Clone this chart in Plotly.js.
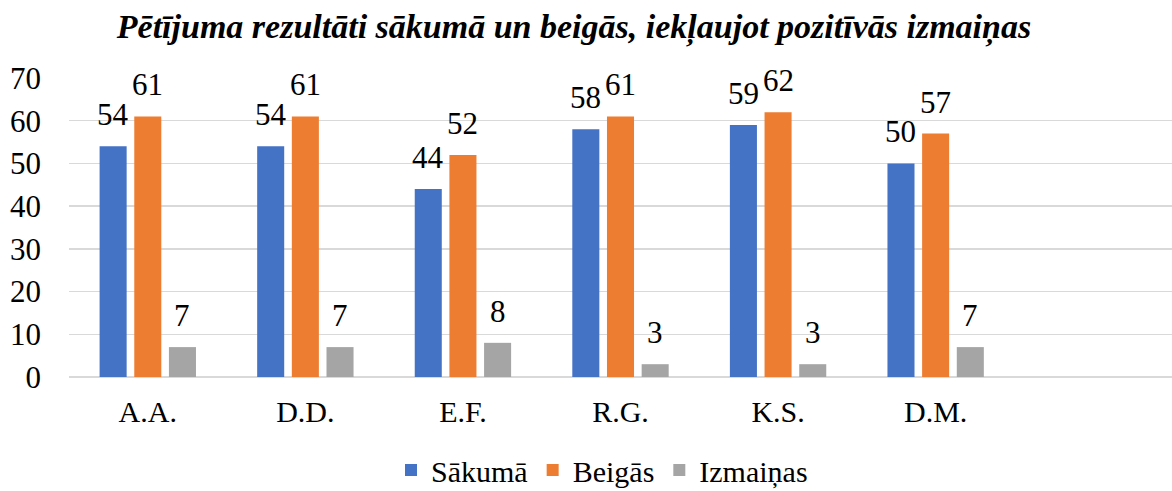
<!DOCTYPE html>
<html>
<head>
<meta charset="utf-8">
<script src="https://cdn.plot.ly/plotly-3.0.1.min.js"></script>
<style>html,body{margin:0;padding:0;background:#fff;}#chart{width:1172px;height:491px;}</style>
</head>
<body>
<div id="chart"></div>
<script>
const categories = ["A.A.", "D.D.", "E.F.", "R.G.", "K.S.", "D.M."];
const sakuma = [54, 54, 44, 58, 59, 50];
const beigas = [61, 61, 52, 61, 62, 57];
const izmainas = [7, 7, 8, 3, 3, 7];
const seriesNames = ["Sākumā", "Beigās", "Izmaiņas"];
const colors = ["#4472C4", "#ED7D31", "#A5A5A5"];
const yTicks = [0, 10, 20, 30, 40, 50, 60, 70];
const titleText = "Pētījuma rezultāti sākumā un beigās, iekļaujot pozitīvās izmaiņas";

const FONT = "Liberation Serif";
const bargap = 0.34;
const bargroupgap = 0.22;
const allSeries = [sakuma, beigas, izmainas];

const traces = allSeries.map((vals, i) => ({
  type: "bar",
  name: seriesNames[i],
  x: categories,
  y: vals,
  marker: {color: colors[i]},
  hoverinfo: "none"
}));

const slot = (1 - bargap) / allSeries.length;
const annotations = [];
allSeries.forEach((vals, i) => {
  vals.forEach((v, j) => {
    annotations.push({
      x: j + (i - (allSeries.length - 1) / 2) * slot,
      y: v,
      xref: "x", yref: "y",
      text: String(v),
      showarrow: false,
      yanchor: "bottom",
      xanchor: "center",
      yshift: 12,
      font: {family: FONT, size: 31, color: "#000"}
    });
  });
});

const layout = {
  width: 1172, height: 491,
  margin: {l: 69, r: 0, t: 78, b: 114, autoexpand: false},
  paper_bgcolor: "#fff", plot_bgcolor: "#fff",
  barmode: "group",
  bargap: bargap,
  bargroupgap: bargroupgap,
  font: {family: FONT, color: "#000"},
  title: {
    text: "<b><i>" + titleText + "</i></b>",
    font: {family: FONT, size: 34, color: "#000"},
    x: 574 / 1172, xref: "container", xanchor: "center",
    y: 1 - 26 / 491, yref: "container", yanchor: "middle"
  },
  xaxis: {
    type: "category",
    range: [-0.5, 6.5],
    showgrid: false,
    showline: false,
    zeroline: false,
    ticks: "",
    ticklabelstandoff: 14,
    tickfont: {family: FONT, size: 30, color: "#000"}
  },
  yaxis: {
    range: [0, 70],
    tickvals: yTicks,
    showgrid: true,
    gridcolor: "#D9D9D9",
    gridwidth: 1.5,
    zeroline: true,
    zerolinecolor: "#D9D9D9",
    zerolinewidth: 1.5,
    showline: false,
    ticks: "",
    ticklabelstandoff: 27,
    tickfont: {family: FONT, size: 31, color: "#000"}
  },
  showlegend: true,
  legend: {
    orientation: "h",
    xref: "container", yref: "paper",
    x: 602 / 1172, xanchor: "center",
    y: -(470 - 377) / 299, yanchor: "middle",
    font: {family: FONT, size: 30, color: "#000"},
    itemclick: false, itemdoubleclick: false
  },
  annotations: annotations
};

Plotly.newPlot("chart", traces, layout, {displayModeBar: false, staticPlot: true});
</script>
</body>
</html>
